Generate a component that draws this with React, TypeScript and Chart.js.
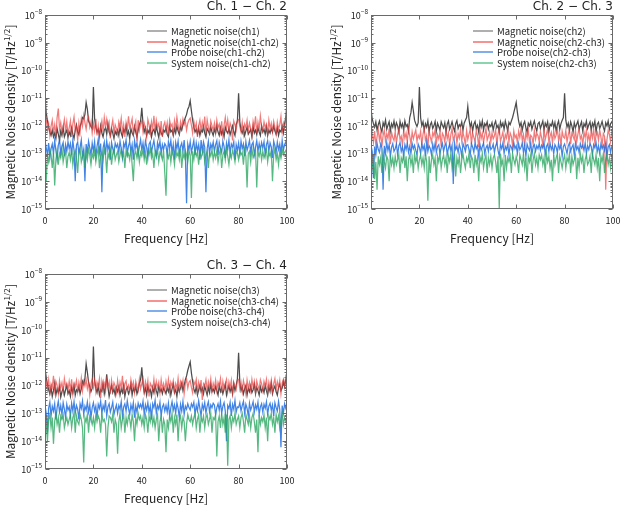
import { useEffect, useRef } from 'react';
import { Chart, registerables } from 'chart.js';

Chart.register(...registerables);

const FONT = '"Noto Sans CJK JP", "Noto Sans", sans-serif';
const TITLE_FONT = '"DejaVu Sans", sans-serif';
// series values are in units of 1e-14 T/Hz^1/2, one value every 0.5 Hz from 0 to 100 Hz
const UNIT = 1e-14;
const FREQ_STEP = 0.5;
const X_TICKS = [0, 20, 40, 60, 80, 100];
const Y_EXPONENTS = [-15, -14, -13, -12, -11, -10, -9, -8];

const COLORS = ['rgba(45,45,45,0.85)', 'rgba(235,60,60,0.68)', 'rgba(25,105,225,0.82)', 'rgba(40,165,95,0.78)'];
const LEGEND_COLORS = ['#7a7a7a', '#ee4a4a', '#2a78e0', '#3cb878'];

// ---- Ch.1 - Ch.2 ----
const magCh1 = [
  1000, 300, 150, 90, 60, 45, 70, 40, 55, 35, 80, 50, 30, 65, 45, 90, 40, 55, 70, 38,
  60, 45, 85, 50, 35, 70, 110, 60, 48, 95, 130, 200, 180, 260, 700, 400, 150, 120, 95, 80,
  2500, 180, 90, 60, 75, 45, 100, 55, 40, 70, 85, 50, 120, 60, 45, 80, 55, 35, 65, 50,
  70, 45, 90, 55, 40, 75, 60, 100, 48, 65, 35, 80, 55, 45, 95, 60, 40, 70, 110, 150,
  450, 120, 60, 85, 45, 70, 55, 90, 40, 65, 75, 50, 100, 60, 38, 80, 55, 45, 70, 60,
  85, 50, 40, 95, 60, 70, 45, 80, 55, 100, 65, 48, 90, 70, 110, 150, 200, 260, 400, 500,
  800, 350, 160, 90, 60, 75, 50, 85, 45, 70, 60, 95, 55, 40, 80, 65, 50, 90, 60, 45,
  75, 55, 100, 60, 45, 85, 50, 70, 40, 90, 65, 55, 80, 48, 70, 100, 60, 45, 110, 150,
  1500, 140, 70, 55, 85, 45, 65, 90, 50, 60, 75, 40, 95, 55, 70, 48, 85, 60, 45, 100,
  60, 75, 50, 90, 45, 70, 55, 80, 60, 100, 65, 50, 85, 45, 70, 60, 95, 55, 120, 200,
  700,
];
const magCh1Ch2 = [
  300, 180, 70, 120, 45, 95, 160, 60, 110, 40, 200, 420, 75, 130, 55, 90, 170, 65, 140, 50,
  85, 150, 40, 115, 210, 70, 95, 30, 125, 60, 180, 100, 240, 130, 75, 160, 210, 90, 140, 55,
  120, 65, 180, 45, 100, 35, 85, 150, 60, 200, 90, 170, 70, 125, 35, 95, 160, 55, 110, 80,
  50, 140, 95, 190, 60, 110, 40, 130, 75, 220, 85, 115, 180, 50, 95, 145, 28, 160, 70, 120,
  150, 60, 125, 85, 40, 170, 110, 55, 140, 75, 230, 65, 160, 90, 120, 45, 150, 40, 100, 135,
  70, 130, 50, 160, 95, 115, 45, 150, 80, 210, 100, 60, 140, 85, 175, 110, 150, 70, 125, 165,
  190, 105, 55, 145, 80, 125, 40, 100, 160, 65, 135, 80, 215, 50, 165, 90, 60, 150, 100, 70,
  125, 55, 160, 85, 115, 60, 145, 45, 105, 200, 80, 165, 65, 125, 90, 30, 150, 110, 70, 160,
  170, 95, 60, 135, 50, 115, 85, 160, 65, 125, 80, 45, 145, 90, 220, 55, 135, 75, 230, 95,
  65, 140, 85, 115, 50, 160, 80, 125, 60, 145, 90, 50, 135, 75, 110, 220, 60, 125, 85, 170,
  140,
];
const probeCh1Ch2 = [
  28, 16, 9, 24, 7, 15, 22, 10, 30, 13, 6, 20, 32, 10, 18, 25, 8, 21, 12, 27,
  15, 23, 9, 30, 13, 1, 20, 26, 10, 17, 31, 8, 14, 1, 22, 11, 28, 16, 9, 24,
  12, 27, 8, 18, 33, 11, 23, 0.4, 16, 26, 9, 29, 14, 21, 6, 25, 15, 10, 24, 17,
  22, 11, 28, 15, 7, 24, 17, 31, 10, 19, 27, 12, 21, 6, 29, 16, 25, 9, 18, 32,
  13, 24, 10, 29, 17, 7, 22, 27, 11, 19, 30, 14, 8, 25, 16, 28, 10, 21, 14, 23,
  19, 9, 27, 16, 30, 11, 21, 6, 25, 15, 28, 10, 18, 24, 12, 31, 9, 0.16, 22, 14,
  27, 11, 18, 30, 9, 24, 13, 21, 6, 31, 12, 26, 17, 0.4, 15, 28, 10, 22, 16, 26,
  12, 21, 29, 9, 25, 16, 11, 28, 18, 7, 24, 14, 31, 10, 22, 17, 27, 6, 21, 13,
  24, 10, 28, 15, 22, 8, 27, 13, 19, 30, 11, 21, 26, 9, 17, 29, 12, 23, 14, 25,
  16, 27, 9, 21, 29, 12, 24, 17, 7, 28, 19, 11, 26, 14, 22, 10, 30, 13, 21, 27,
  13,
];
const systemCh1Ch2 = [
  12, 1, 8, 5, 14, 9, 3, 11, 0.7, 6, 13, 4, 10, 7, 15, 5, 9, 12, 3, 8,
  11, 6, 14, 4, 9, 13, 7, 2, 10, 15, 5, 8, 12, 3, 11, 6, 14, 9, 4, 10,
  7, 13, 5, 10, 15, 3, 8, 12, 6, 14, 9, 2, 11, 7, 13, 4, 10, 15, 6, 9,
  12, 5, 9, 14, 7, 11, 3, 13, 8, 10, 6, 15, 4, 1, 9, 12, 7, 14, 5, 11,
  8, 14, 6, 11, 4, 13, 9, 15, 7, 10, 3, 12, 8, 14, 5, 11, 9, 6, 13, 2,
  0.3, 10, 7, 13, 5, 12, 9, 4, 14, 8, 11, 6, 15, 3, 10, 7, 13, 9, 5, 12,
  9, 0.25, 12, 6, 14, 8, 11, 4, 13, 7, 10, 15, 5, 9, 12, 3, 11, 8, 14, 6,
  11, 7, 13, 5, 10, 14, 3, 9, 12, 6, 15, 8, 4, 11, 7, 13, 9, 5, 12, 10,
  6, 13, 9, 11, 4, 14, 8, 0.6, 10, 12, 5, 15, 7, 9, 13, 0.6, 11, 8, 14, 6,
  12, 7, 10, 14, 5, 11, 8, 13, 1, 9, 15, 6, 10, 4, 12, 7, 14, 9, 11, 13,
  8,
];

// ---- Ch.2 - Ch.3 ----
const magCh2 = [
  400, 180, 120, 90, 140, 70, 110, 150, 85, 60, 130, 95, 160, 75, 105, 140, 65, 120, 90, 150,
  80, 130, 100, 60, 145, 90, 120, 70, 150, 95, 110, 65, 200, 300, 700, 350, 160, 120, 95, 130,
  2500, 200, 100, 140, 70, 120, 90, 150, 60, 110, 135, 80, 100, 145, 65, 125, 95, 70, 140, 105,
  85, 130, 60, 115, 150, 75, 100, 140, 90, 65, 120, 155, 80, 110, 95, 140, 70, 125, 160, 200,
  500, 170, 90, 130, 65, 115, 145, 80, 105, 60, 135, 90, 150, 70, 120, 100, 140, 75, 110, 95,
  130, 70, 115, 150, 85, 105, 60, 140, 95, 125, 75, 150, 100, 65, 135, 110, 150, 200, 300, 450,
  700, 300, 150, 95, 130, 70, 115, 145, 85, 60, 125, 100, 140, 75, 110, 150, 90, 65, 120, 135,
  80, 110, 150, 70, 125, 95, 140, 60, 115, 100, 145, 85, 130, 65, 110, 150, 75, 120, 160, 200,
  1500, 160, 90, 125, 70, 140, 100, 60, 130, 85, 115, 150, 75, 105, 140, 65, 120, 95, 150, 80,
  110, 140, 70, 125, 95, 150, 60, 115, 135, 80, 105, 145, 90, 65, 130, 100, 150, 75, 120, 140,
  110,
];
const magCh2Ch3 = [
  150, 50, 25, 65, 20, 40, 75, 30, 55, 18, 45, 70, 28, 52, 35, 80, 22, 58, 38, 30,
  62, 24, 48, 75, 32, 42, 20, 68, 36, 55, 26, 80, 44, 22, 60, 34, 50, 72, 28, 46,
  36, 64, 20, 50, 78, 30, 45, 16, 68, 40, 26, 58, 42, 74, 24, 48, 34, 62, 18, 54,
  44, 26, 70, 34, 55, 20, 48, 80, 30, 42, 64, 24, 52, 36, 75, 28, 58, 38, 20, 68,
  32, 50, 76, 22, 56, 38, 28, 66, 44, 17, 72, 35, 54, 25, 46, 80, 30, 42, 62, 26,
  55, 34, 44, 72, 20, 50, 78, 28, 40, 60, 24, 48, 36, 80, 26, 56, 42, 19, 66, 37,
  46, 24, 64, 38, 76, 30, 48, 18, 60, 36, 70, 26, 46, 40, 22, 68, 33, 54, 44, 27,
  60, 38, 20, 72, 32, 50, 80, 26, 43, 58, 24, 66, 35, 46, 76, 30, 52, 19, 64, 40,
  36, 68, 26, 46, 78, 22, 54, 42, 32, 70, 26, 50, 80, 34, 44, 20, 60, 38, 70, 28,
  48, 26, 64, 36, 78, 24, 45, 58, 30, 72, 40, 20, 54, 42, 0.5, 32, 68, 50, 26, 62,
  42,
];
const probeCh2Ch3 = [
  20, 12, 1.3, 18, 9, 24, 14, 11, 22, 16, 0.5, 19, 10, 25, 13, 21, 8, 17, 23, 12,
  15, 22, 9, 19, 25, 12, 17, 8, 21, 14, 24, 11, 18, 10, 23, 15, 20, 13, 9, 22,
  17, 10, 23, 14, 20, 8, 25, 12, 19, 15, 9, 22, 13, 24, 11, 18, 21, 10, 16, 23,
  12, 19, 24, 9, 16, 22, 13, 20, 0.8, 25, 14, 18, 11, 21, 15, 8, 23, 17, 12, 20,
  21, 14, 9, 23, 17, 11, 25, 15, 19, 8, 22, 13, 18, 24, 10, 16, 20, 12, 23, 14,
  16, 22, 11, 19, 25, 13, 8, 21, 15, 24, 10, 18, 14, 22, 9, 20, 17, 12, 25, 15,
  19, 10, 23, 14, 17, 24, 11, 20, 8, 22, 16, 13, 25, 9, 18, 21, 12, 19, 15, 23,
  13, 20, 16, 25, 9, 18, 22, 12, 24, 14, 19, 10, 21, 17, 11, 23, 15, 20, 8, 18,
  22, 15, 10, 19, 24, 12, 17, 21, 9, 25, 14, 18, 11, 23, 16, 20, 13, 24, 10, 19,
  14, 23, 18, 9, 21, 16, 25, 12, 19, 10, 22, 15, 20, 13, 24, 8, 17, 21, 11, 18,
  16,
];
const systemCh2Ch3 = [
  6, 3, 9, 1.2, 5, 0.5, 8, 4, 7, 2, 10, 5, 3, 8, 6, 1, 9, 4, 7, 3,
  8, 4, 6, 9, 2, 7, 5, 10, 3, 8, 1, 6, 9, 4, 7, 2, 10, 5, 8, 3,
  6, 9, 4, 7, 3, 10, 5, 0.2, 8, 2, 6, 9, 4, 7, 1, 8, 5, 10, 3, 6,
  9, 4, 7, 2, 8, 5, 10, 3, 6, 9, 1.5, 7, 4, 8, 2, 6, 10, 5, 3, 7,
  5, 10, 3, 8, 6, 2, 9, 4, 7, 1, 8, 5, 10, 3, 6, 9, 2, 7, 4, 8,
  3, 7, 9, 5, 2, 8, 0.1, 10, 4, 6, 1, 9, 3, 7, 5, 8, 2, 10, 6, 4,
  8, 5, 2, 9, 6, 4, 10, 3, 7, 1, 8, 5, 9, 2, 6, 10, 4, 7, 3, 9,
  6, 9, 4, 7, 2, 10, 5, 8, 3, 6, 1, 9, 4, 7, 10, 2, 8, 5, 3, 6,
  9, 3, 7, 5, 10, 2, 8, 4, 6, 9, 1.2, 7, 3, 10, 5, 8, 2, 6, 9, 4,
  5, 8, 2, 10, 6, 4, 9, 3, 7, 1, 8, 5, 10, 2, 6, 9, 4, 7, 3, 8,
  5,
];

// ---- Ch.3 - Ch.4 ----
const magCh3 = [
  400, 200, 110, 70, 50, 85, 40, 65, 120, 45, 75, 55, 90, 38, 60, 80, 45, 70, 100, 50,
  65, 40, 85, 55, 100, 45, 70, 60, 90, 50, 75, 140, 110, 180, 600, 300, 130, 90, 60, 80,
  2500, 150, 80, 55, 95, 45, 70, 60, 120, 50, 85, 250, 90, 40, 65, 100, 55, 75, 45, 85,
  60, 90, 45, 75, 55, 100, 40, 70, 85, 50, 65, 110, 45, 80, 60, 95, 50, 70, 120, 160,
  450, 110, 55, 80, 45, 95, 60, 70, 40, 85, 55, 100, 65, 45, 90, 60, 75, 50, 80, 65,
  50, 85, 60, 95, 45, 75, 110, 55, 70, 40, 90, 60, 80, 120, 65, 100, 160, 220, 350, 500,
  700, 280, 140, 75, 55, 90, 45, 70, 100, 60, 80, 50, 95, 65, 45, 85, 55, 110, 60, 75,
  55, 90, 65, 45, 100, 60, 80, 50, 75, 110, 45, 70, 95, 60, 85, 50, 120, 65, 100, 170,
  1500, 130, 65, 90, 50, 75, 100, 45, 80, 60, 95, 55, 70, 110, 50, 85, 65, 45, 90, 60,
  80, 55, 100, 65, 45, 90, 60, 120, 50, 75, 95, 60, 45, 85, 110, 65, 80, 140, 90, 160,
  200,
];
const magCh3Ch4 = [
  210, 130, 70, 160, 55, 115, 85, 220, 65, 140, 100, 50, 150, 80, 125, 60, 175, 90, 120, 65,
  140, 70, 165, 50, 115, 90, 150, 60, 130, 80, 185, 65, 140, 95, 160, 75, 125, 45, 115, 165,
  85, 150, 60, 130, 95, 175, 35, 140, 75, 115, 60, 160, 90, 135, 50, 150, 70, 125, 95, 55,
  150, 65, 130, 80, 220, 50, 115, 145, 70, 100, 60, 160, 85, 130, 55, 140, 95, 65, 170, 75,
  115, 175, 60, 135, 80, 150, 40, 120, 95, 70, 165, 60, 140, 85, 130, 55, 160, 75, 115, 65,
  140, 80, 165, 55, 130, 95, 150, 60, 115, 75, 180, 65, 135, 85, 150, 50, 120, 165, 80, 130,
  150, 85, 55, 140, 105, 165, 60, 130, 75, 155, 30, 115, 95, 160, 65, 135, 80, 170, 60, 120,
  80, 155, 65, 130, 95, 175, 55, 140, 75, 115, 165, 60, 135, 85, 155, 50, 120, 95, 70, 160,
  165, 75, 130, 60, 150, 95, 50, 155, 80, 125, 65, 165, 85, 140, 55, 145, 95, 70, 160, 115,
  65, 140, 95, 165, 55, 130, 80, 155, 60, 115, 175, 75, 135, 85, 155, 50, 120, 165, 95, 220,
  180,
];
const probeCh3Ch4 = [
  20, 10, 2, 15, 25, 8, 18, 12, 22, 6, 16, 27, 11, 19, 9, 24, 14, 7, 21, 13,
  17, 8, 23, 12, 26, 10, 19, 14, 6, 22, 15, 28, 9, 18, 13, 25, 11, 20, 7, 16,
  24, 12, 18, 7, 21, 15, 27, 10, 19, 13, 30, 8, 17, 22, 11, 16, 25, 9, 14, 20,
  10, 19, 14, 26, 8, 17, 22, 12, 28, 15, 9, 20, 13, 24, 7, 18, 11, 23, 16, 21,
  15, 27, 9, 20, 13, 24, 11, 18, 6, 22, 16, 29, 10, 19, 14, 25, 8, 17, 21, 12,
  19, 11, 23, 8, 16, 26, 13, 20, 10, 24, 15, 7, 21, 12, 27, 9, 18, 14, 22, 16,
  13, 22, 17, 25, 9, 19, 12, 28, 15, 8, 21, 14, 24, 10, 18, 26, 11, 20, 16, 23,
  20, 9, 16, 22, 13, 27, 10, 18, 24, 12, 1, 19, 15, 25, 8, 21, 14, 29, 11, 17,
  16, 24, 12, 19, 27, 10, 21, 15, 8, 23, 13, 18, 26, 11, 20, 14, 25, 9, 17, 22,
  11, 21, 15, 26, 9, 18, 23, 13, 20, 8, 24, 16, 12, 27, 14, 0.6, 19, 10, 22, 15,
  20,
];
const systemCh3Ch4 = [
  8, 4, 1, 6, 9, 3, 7, 0.8, 5, 10, 4, 7, 2, 8, 6, 9, 3, 5, 7, 4,
  6, 9, 3, 7, 10, 2, 8, 5, 4, 9, 6, 3, 0.17, 7, 5, 9, 2, 8, 6, 4,
  7, 3, 9, 5, 8, 6, 2, 10, 5, 6, 4, 0.28, 3, 8, 7, 5, 9, 2, 6, 4,
  0.35, 5, 10, 3, 6, 9, 2, 7, 4, 8, 6, 3, 9, 5, 1, 7, 4, 10, 6, 8,
  4, 7, 3, 9, 6, 2, 8, 5, 10, 4, 7, 3, 6, 9, 1, 5, 8, 2, 6, 4,
  0.4, 6, 3, 8, 5, 10, 2, 7, 4, 9, 1, 6, 8, 3, 7, 5, 1, 4, 9, 6,
  5, 8, 4, 7, 10, 3, 6, 9, 2, 7, 5, 8, 3, 7, 9, 4, 6, 10, 2, 7,
  6, 9, 0.28, 5, 8, 3, 10, 4, 7, 2, 9, 0.13, 6, 8, 3, 7, 5, 10, 4, 6,
  8, 3, 7, 10, 5, 2, 9, 6, 4, 8, 3, 7, 10, 5, 2, 6, 0.4, 9, 4, 7,
  5, 9, 3, 7, 1, 8, 6, 10, 4, 7, 2, 9, 5, 8, 3, 6, 10, 4, 7, 5,
  6,
];

type PanelDef = {
  title: string;
  labels: string[];
  series: number[][];
  left: number; top: number; w: number; h: number;
  pad: { left: number; right: number; top: number; bottom: number };
};

const PANELS: PanelDef[] = [
  {
    title: 'Ch. 1 − Ch. 2',
    labels: ['Magnetic noise(ch1)', 'Magnetic noise(ch1-ch2)', 'Probe noise(ch1-ch2)', 'System noise(ch1-ch2)'],
    series: [magCh1, magCh1Ch2, probeCh1Ch2, systemCh1Ch2],
    left: 0, top: 0, w: 310, h: 250,
    pad: { left: 45, right: 23, top: 15, bottom: 41 },
  },
  {
    title: 'Ch. 2 − Ch. 3',
    labels: ['Magnetic noise(ch2)', 'Magnetic noise(ch2-ch3)', 'Probe noise(ch2-ch3)', 'System noise(ch2-ch3)'],
    series: [magCh2, magCh2Ch3, probeCh2Ch3, systemCh2Ch3],
    left: 315, top: 0, w: 308, h: 250,
    pad: { left: 56, right: 10, top: 15, bottom: 41 },
  },
  {
    title: 'Ch. 3 − Ch. 4',
    labels: ['Magnetic noise(ch3)', 'Magnetic noise(ch3-ch4)', 'Probe noise(ch3-ch4)', 'System noise(ch3-ch4)'],
    series: [magCh3, magCh3Ch4, probeCh3Ch4, systemCh3Ch4],
    left: 0, top: 250, w: 310, h: 255,
    pad: { left: 45, right: 23, top: 24, bottom: 36 },
  },
];

function decor(panel: PanelDef) {
  return {
    id: 'decor',
    afterDraw(chart: Chart) {
      const { ctx, chartArea: a } = chart;
      const xs = chart.scales.x;
      const ys = chart.scales.y;
      const seg = (x1: number, y1: number, x2: number, y2: number) => {
        ctx.beginPath(); ctx.moveTo(x1, y1); ctx.lineTo(x2, y2); ctx.stroke();
      };
      ctx.save();
      ctx.strokeStyle = '#6a6a6a';
      ctx.lineWidth = 1;
      const L = Math.round(a.left) + 0.5, R = Math.round(a.right) - 0.5;
      const T = Math.round(a.top) + 0.5, B = Math.round(a.bottom) - 0.5;
      ctx.strokeRect(L, T, R - L, B - T);

      // y ticks (inward, both sides) with minor decades
      for (const e of Y_EXPONENTS) {
        const y = Math.round(ys.getPixelForValue(10 ** e)) + 0.5;
        seg(L, y, L + 4, y); seg(R - 4, y, R, y);
        if (e < -8) {
          for (let m = 2; m < 10; m++) {
            const ym = Math.round(ys.getPixelForValue(m * 10 ** e)) + 0.5;
            seg(L, ym, L + 2, ym); seg(R - 2, ym, R, ym);
          }
        }
      }
      // x ticks
      for (const t of X_TICKS) {
        const x = Math.round(xs.getPixelForValue(t)) + 0.5;
        seg(x, B, x, B - 4); seg(x, T, x, T + 4);
      }

      ctx.fillStyle = '#222';
      ctx.textBaseline = 'middle';
      // y tick labels 10^e
      for (const e of Y_EXPONENTS) {
        const y = ys.getPixelForValue(10 ** e);
        const sup = '−' + String(-e);
        ctx.font = `6.5px ${FONT}`;
        const sw = ctx.measureText(sup).width;
        ctx.font = `9px ${FONT}`;
        const bw = ctx.measureText('10').width;
        const right = a.left - 3;
        ctx.textAlign = 'left';
        ctx.fillText('10', right - sw - bw, y + 0.5);
        ctx.font = `6.5px ${FONT}`;
        ctx.fillText(sup, right - sw, y - 3);
      }
      // x tick labels
      ctx.font = `9px ${FONT}`;
      ctx.textAlign = 'center';
      for (const t of X_TICKS) {
        ctx.fillText(String(t), xs.getPixelForValue(t), a.bottom + 12);
      }
      // x title
      ctx.font = `12px ${FONT}`;
      ctx.fillText('Frequency [Hz]', (a.left + a.right) / 2, a.bottom + 29);

      // y title with superscript 1/2
      ctx.save();
      ctx.translate(a.left - 34, (a.top + a.bottom) / 2);
      ctx.rotate(-Math.PI / 2);
      const p1 = 'Magnetic Noise density [T/Hz';
      const p2 = '1/2';
      const p3 = ']';
      ctx.font = `11.8px ${FONT}`;
      const w1 = ctx.measureText(p1).width;
      const w3 = ctx.measureText(p3).width;
      ctx.font = `8px ${FONT}`;
      const w2 = ctx.measureText(p2).width;
      let x0 = -(w1 + w2 + w3 + 1) / 2;
      ctx.textAlign = 'left';
      ctx.font = `11.8px ${FONT}`;
      ctx.fillText(p1, x0, 0);
      x0 += w1 + 0.5;
      ctx.font = `8px ${FONT}`;
      ctx.fillText(p2, x0, -4);
      x0 += w2 + 0.5;
      ctx.font = `11.8px ${FONT}`;
      ctx.fillText(p3, x0, 0);
      ctx.restore();

      // panel title
      ctx.font = `12px ${TITLE_FONT}`;
      ctx.textAlign = 'right';
      ctx.fillText(panel.title, a.right, a.top - 8.5);

      // legend
      ctx.font = `9.5px ${FONT}`;
      ctx.textAlign = 'left';
      ctx.lineWidth = 1.2;
      panel.labels.forEach((label, i) => {
        const y = Math.round(a.top + 16 + i * 10.6);
        ctx.strokeStyle = LEGEND_COLORS[i];
        seg(a.left + 102, y, a.left + 122, y);
        ctx.fillStyle = '#222';
        ctx.fillText(label, a.left + 126, y);
      });
      ctx.restore();
    },
  };
}

function Panel({ panel }: { panel: PanelDef }) {
  const ref = useRef<HTMLCanvasElement>(null);
  const chartRef = useRef<Chart | null>(null);

  useEffect(() => {
    if (!ref.current) return;
    chartRef.current?.destroy();
    chartRef.current = new Chart(ref.current, {
      type: 'line',
      data: {
        datasets: panel.series.map((vals, i) => ({
          label: panel.labels[i],
          data: vals.map((v, k) => ({ x: k * FREQ_STEP, y: v * UNIT })),
          borderColor: COLORS[i],
          borderWidth: 1.25,
          pointRadius: 0,
          tension: 0,
          order: 3 - i,
        })),
      },
      options: {
        responsive: false,
        animation: false,
        events: [],
        layout: { padding: panel.pad },
        plugins: { legend: { display: false }, tooltip: { enabled: false } },
        scales: {
          x: { type: 'linear', min: 0, max: 100, display: false },
          y: { type: 'logarithmic', min: 1e-15, max: 1e-8, display: false },
        },
      },
      plugins: [decor(panel)],
    });
    return () => { chartRef.current?.destroy(); };
  }, [panel]);

  return (
    <canvas
      ref={ref}
      width={panel.w}
      height={panel.h}
      style={{ position: 'absolute', left: panel.left, top: panel.top, width: panel.w, height: panel.h }}
    />
  );
}

export default function App() {
  return (
    <div style={{ position: 'absolute', left: 0, top: 0, width: 623, height: 505, background: '#fff', overflow: 'hidden' }}>
      {PANELS.map((p) => <Panel key={p.title} panel={p} />)}
    </div>
  );
}
